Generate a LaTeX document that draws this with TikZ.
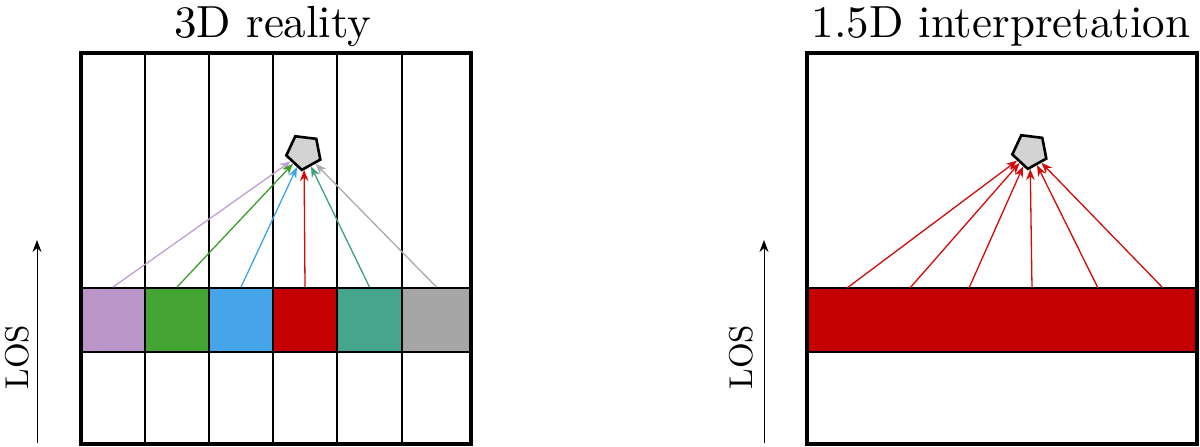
\documentclass[tikz,border=0pt]{standalone}
\usetikzlibrary{shapes.geometric,arrows.meta}
\definecolor{cpurple}{RGB}{187,151,201}
\definecolor{cgreen}{RGB}{69,165,52}
\definecolor{cblue}{RGB}{70,165,232}
\definecolor{cred}{RGB}{197,0,0}
\definecolor{cteal}{RGB}{70,165,140}
\definecolor{cgray}{RGB}{166,166,166}
\definecolor{apurple}{RGB}{192,160,210}
\definecolor{agreen}{RGB}{58,160,42}
\definecolor{ablue}{RGB}{60,165,235}
\definecolor{ared}{RGB}{210,10,10}
\definecolor{ateal}{RGB}{64,160,128}
\definecolor{agray}{RGB}{170,170,170}
\tikzset{
  outerbox/.style={draw, line width=3.2pt, minimum width=390pt, minimum height=391pt, inner sep=0pt},
  cellbox/.style={draw, line width=1.8pt, minimum height=64pt, inner sep=0pt},
  pent/.style={regular polygon, regular polygon sides=5, draw, line width=2.6pt, fill={rgb,255:red,211;green,211;blue,211}, minimum size=36pt, inner sep=0pt, rotate=29},
  ray/.style={line width=1.3pt, -{Stealth[length=11pt,width=8.5pt]}},
  losarr/.style={line width=1pt, -{Stealth[length=12pt,width=9pt]}},
  title/.style={font=\fontsize{10}{12}\selectfont, scale=4.5, anchor=base},
  lostext/.style={font=\fontsize{10}{12}\selectfont, scale=3.3, rotate=90}
}
\begin{document}
\begin{tikzpicture}[x=1pt,y=-1pt]
\useasboundingbox (0,0) rectangle (1200,447);
% ---------- left panel ----------
\node[title] (t1) at (273,37) {3D reality};
\node[cellbox, fill=cpurple, minimum width=64pt] (c1) at (113,320) {};
\node[cellbox, fill=cgreen, minimum width=64pt] (c2) at (177,320) {};
\node[cellbox, fill=cblue, minimum width=64pt] (c3) at (241,320) {};
\node[cellbox, fill=cred, minimum width=64pt] (c4) at (305,320) {};
\node[cellbox, fill=cteal, minimum width=65pt] (c5) at (369.5,320) {};
\node[cellbox, fill=cgray, minimum width=69pt] (c6) at (436.5,320) {};
\foreach \xx in {145,209,273,337,402}
  \draw[line width=1.8pt] (\xx,53) -- (\xx,444);
\node[outerbox] (b1) at (276,248.5) {};
\node[pent] (p1) at (304,152) {};
\draw[ray, apurple] (c1.north) -- (p1);
\draw[ray, agreen] (c2.north) -- (p1);
\draw[ray, ablue] (c3.north) -- (p1);
\draw[ray, ared] (c4.north) -- (p1);
\draw[ray, ateal] (c5.north) -- (p1);
\draw[ray, agray] (c6.north) -- (p1);
\coordinate (la) at (37,443);
\coordinate (lb) at (37,240);
\draw[losarr] (la) -- (lb);
\node[lostext] (los1) at (17,357) {LOS};
% ---------- right panel ----------
\node[title] (t2) at (1001,37) {1.5D interpretation};
\node[cellbox, fill=cred, minimum width=390pt] (band) at (1002,320) {};
\node[outerbox] (b2) at (1002,248.5) {};
\node[pent] (p2) at (1030,151) {};
\foreach \i/\xx in {1/847,2/910,3/969,4/1032,5/1098,6/1163}{
  \coordinate (r\i) at (\xx,288);
  \draw[ray, ared] (r\i) -- (p2);
}
\coordinate (ra) at (764,443);
\coordinate (rb) at (764,240);
\draw[losarr] (ra) -- (rb);
\node[lostext] (los2) at (741,357) {LOS};
\end{tikzpicture}
\end{document}
